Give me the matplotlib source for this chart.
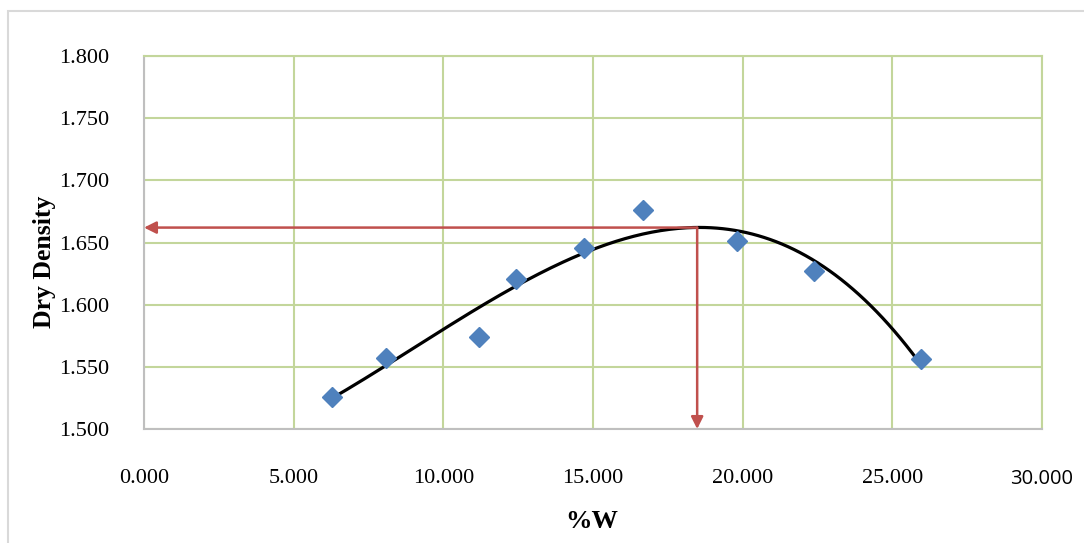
import numpy as np
import matplotlib.pyplot as plt
from matplotlib.patches import Rectangle

# moisture content (%W) and dry density
w = [6.28, 8.09, 11.19, 12.43, 14.70, 16.67, 19.81, 22.39, 25.96]
dry_density = [1.526, 1.557, 1.574, 1.621, 1.6455, 1.676, 1.651, 1.627, 1.556]

# optimum moisture content / max dry density marked by the red arrows
omc = 18.48
mdd = 1.662

xticks = [0, 5, 10, 15, 20, 25, 30]
yticks = [1.500, 1.550, 1.600, 1.650, 1.700, 1.750, 1.800]

plt.rcParams['font.family'] = ['Liberation Serif', 'DejaVu Serif']

fig = plt.figure(figsize=(10.84, 5.43), dpi=100)
ax = fig.add_axes([144/1084, 1 - 429/543, (1042-144)/1084, (429-56)/543])

# outer chart frame (cropped at right/bottom in the original)
fig.patches.append(Rectangle((8/1084, -0.05), 1.2, 1 - 11/543 + 0.05,
                             transform=fig.transFigure, fill=False,
                             edgecolor='#D9D9D9', lw=1.5))

grid_c = '#C3D69B'
ax.set_xlim(0, 30)
ax.set_ylim(1.5, 1.8)
ax.set_xticks(xticks)
ax.set_yticks(yticks)
ax.grid(True, color=grid_c, lw=1.5)
ax.set_axisbelow(True)
for s in ['top', 'right']:
    ax.spines[s].set_color(grid_c)
    ax.spines[s].set_linewidth(1.5)
for s in ['left', 'bottom']:
    ax.spines[s].set_color('#BFBFBF')
    ax.spines[s].set_linewidth(1.5)
ax.tick_params(length=0, labelsize=16)
ax.tick_params(axis='y', pad=25)
ax.tick_params(axis='x', pad=29)
ax.set_yticklabels(['%.3f' % v for v in yticks])
ax.set_xticklabels(['%.3f' % v for v in xticks])
ax.get_xticklabels()[-1].set_family(['Open Sans', 'DejaVu Sans'])
ax.get_xticklabels()[-1].set_fontsize(14.5)

# polynomial trendline like excel
coef = np.polyfit(w, dry_density, 3)
xx = np.linspace(min(w), max(w), 200)
ax.plot(xx, np.polyval(coef, xx), color='black', lw=2.3, zorder=3)

ax.plot(w, dry_density, 'D', color='#4F81BD', ms=10, zorder=4)

red = '#C0504D'
ax.annotate('', xy=(0, mdd), xytext=(omc, mdd),
            arrowprops=dict(arrowstyle='-|>', color=red, lw=1.8,
                            mutation_scale=18, shrinkA=0, shrinkB=0), zorder=5)
ax.annotate('', xy=(omc, 1.5), xytext=(omc, mdd),
            arrowprops=dict(arrowstyle='-|>', color=red, lw=1.8,
                            mutation_scale=18, shrinkA=0, shrinkB=0), zorder=5)

fig.text(45/1084, 1 - 262/543, 'Dry Density', rotation=90, ha='center',
         va='center', fontsize=18.5, fontweight='bold')
fig.text(592/1084, 1 - 521/543, '%W', ha='center', va='center',
         fontsize=19, fontweight='bold')

fig.savefig('out.png', dpi=100)
